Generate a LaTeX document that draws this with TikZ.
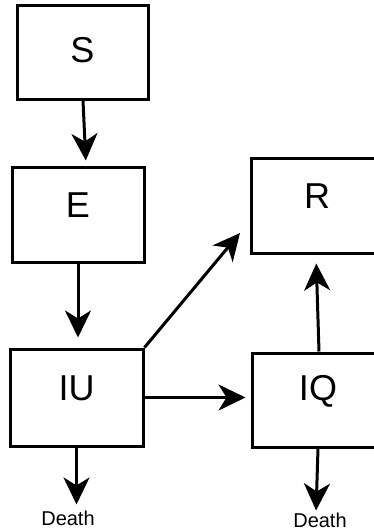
\documentclass[tikz,border=0pt]{standalone}
\usepackage{fontspec}
\setmainfont{Liberation Sans}
\usetikzlibrary{arrows.meta}
\tikzset{
  box/.style={draw=black, line width=3pt, minimum width=132pt, minimum height=95pt, inner sep=0pt, fill=white},
  big/.style={font=\fontsize{36}{40}\selectfont, inner sep=0pt},
  small/.style={font=\fontsize{20}{24}\selectfont, inner sep=0pt},
  arr/.style={line width=3pt, -{Stealth[length=27pt, width=26pt, inset=8pt]}}
}
\begin{document}
\begin{tikzpicture}[x=1pt, y=-1pt]
\useasboundingbox (0,0) rectangle (374,531);
\begin{scope}
\clip (0,0) rectangle (374,531);
\node[box, minimum width=131pt, minimum height=94pt] (S) at (82.5,52) {};
\node[big] (St) at ([yshift=2pt]S.center) {S};
\node[box] (E) at (78,214.5) {};
\node[big] (Et) at ([yshift=9.5pt]E.center) {E};
\node[box, minimum width=133pt, minimum height=97pt] (IU) at (76.5,397.5) {};
\node[big] (IUt) at ([yshift=9.5pt]IU.center) {IU};
\node[box] (R) at (317,205.5) {};
\node[big] (Rt) at ([yshift=9.5pt]R.center) {R};
\node[box, minimum height=94pt] (IQ) at (318,400) {};
\node[big] (IQt) at ([yshift=9pt]IQ.center) {IQ};
\node[small] (D1) at (68,518) {Death};
\node[small] (D2) at (320,520) {Death};
\coordinate (Rin) at (240,233);

\draw[arr, shorten >=5pt] ([xshift=0.5pt]S.south) -- ([xshift=8pt]E.north);
\draw[arr, shorten >=10pt] (E.south) -- (E.south |- IU.north);
\draw[arr, shorten >=5pt] (IU.east) -- (IU.east -| IQ.west);
\draw[arr] (IU.north east) -- (Rin);
\draw[arr, shorten >=9pt] ([xshift=1pt]IQ.north) -- ([xshift=-1pt]R.south);
\draw[arr, shorten >=6pt] (IU.south) -- (IU.south |- D1.north);
\draw[arr, shorten >=2pt] (IQ.south) -- ([xshift=-2pt]IQ.south |- D2.north);
\end{scope}
\end{tikzpicture}
\end{document}
